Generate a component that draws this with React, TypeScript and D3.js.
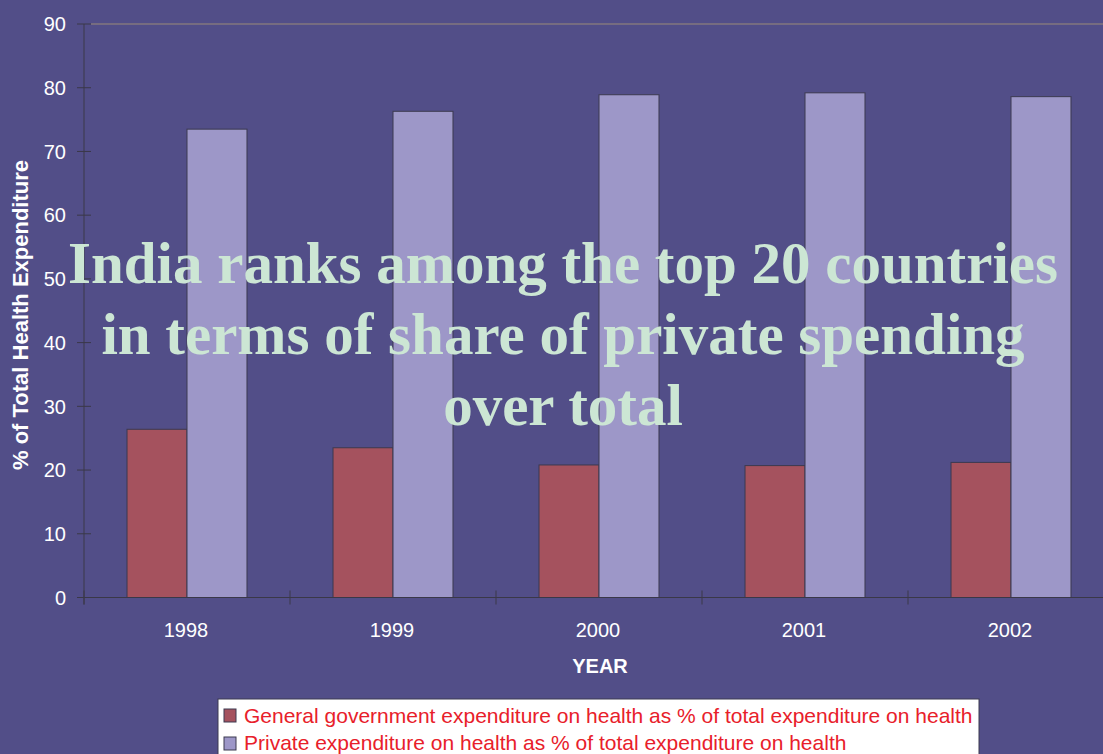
import React from "react";
import * as d3 from "d3";

const years = ["1998", "1999", "2000", "2001", "2002"];
const seriesNames = [
  "General government expenditure on health as % of total expenditure on health",
  "Private expenditure on health as % of total expenditure on health",
];
const govValues = [26.4, 23.5, 20.8, 20.7, 21.2];
const privateValues = [73.5, 76.3, 78.9, 79.2, 78.6];
const yTicks = [0, 10, 20, 30, 40, 50, 60, 70, 80, 90];
const overlayLines = [
  "India ranks among the top 20 countries",
  "in terms of share of private spending",
  "over total",
];

const W = 1103;
const H = 754;
const BG = "#524e88";
const COLORS = ["#a5525e", "#9d97c8"];

export default function App() {
  const left = 84;
  const top = 24;
  const bottom = 597.5;
  const step = 206;
  const x = d3
    .scaleBand<string>()
    .domain(years)
    .range([left, left + step * years.length])
    .padding(0);
  const inner = d3
    .scaleBand<number>()
    .domain([0, 1])
    .range([0, x.bandwidth()])
    .paddingInner(0)
    .paddingOuter(0.717);
  const y = d3.scaleLinear().domain([0, 90]).range([bottom, top]);
  const series = [govValues, privateValues];
  const axisColor = "#3a3848";
  const sans = "Liberation Sans, Arial, sans-serif";

  return (
    <div style={{ position: "fixed", left: 0, top: 0, width: W, height: H, overflow: "hidden" }}>
      <svg width={W} height={H} style={{ display: "block", background: BG }}>
        <rect x={0} y={0} width={W} height={H} fill={BG} />
        <line x1={left + 7} x2={W} y1={y(90)} y2={y(90)} stroke="#9a8a78" strokeWidth={1} />
        {years.map((yr, i) =>
          series.map((vals, s) => (
            <rect
              key={yr + s}
              x={(x(yr) as number) + (inner(s) as number)}
              y={y(vals[i])}
              width={inner.bandwidth()}
              height={bottom - y(vals[i])}
              fill={COLORS[s]}
              stroke="#3c3a50"
              strokeWidth={1}
            />
          ))
        )}
        <line x1={left} x2={left} y1={top} y2={bottom + 7} stroke={axisColor} strokeWidth={1} />
        {yTicks.map((t) => (
          <g key={t}>
            <line x1={left - 7} x2={left + 7} y1={y(t)} y2={y(t)} stroke={axisColor} />
            <text
              x={66}
              y={y(t)}
              dy="0.36em"
              textAnchor="end"
              fill="#ffffff"
              fontFamily={sans}
              fontSize={20}
            >
              {t}
            </text>
          </g>
        ))}
        <line x1={left} x2={W} y1={bottom} y2={bottom} stroke={axisColor} />
        {years.map((yr) => (
          <line
            key={"t" + yr}
            x1={x(yr) as number}
            x2={x(yr) as number}
            y1={bottom - 7}
            y2={bottom + 7}
            stroke={axisColor}
          />
        ))}
        {years.map((yr) => (
          <text
            key={"l" + yr}
            x={(x(yr) as number) + x.bandwidth() / 2 - 1}
            y={637}
            textAnchor="middle"
            fill="#ffffff"
            fontFamily={sans}
            fontSize={20}
          >
            {yr}
          </text>
        ))}
        <text
          x={600}
          y={673}
          textAnchor="middle"
          fill="#ffffff"
          fontWeight="bold"
          fontFamily={sans}
          fontSize={20}
        >
          YEAR
        </text>
        <text
          transform="translate(28,315) rotate(-90)"
          textAnchor="middle"
          fill="#ffffff"
          fontWeight="bold"
          fontFamily={sans}
          fontSize={22}
        >
          % of Total Health Expenditure
        </text>
        {overlayLines.map((ln, i) => (
          <text
            key={ln}
            x={563}
            y={283 + i * 71}
            textAnchor="middle"
            fill="#cce6d4"
            fontWeight="bold"
            fontFamily="Liberation Serif, Times New Roman, serif"
            fontSize={59}
          >
            {ln}
          </text>
        ))}
        <rect x={218} y={699} width={761} height={70} fill="#ffffff" stroke="#3c3a50" />
        {seriesNames.map((nm, i) => (
          <g key={nm}>
            <rect x={224} y={709 + i * 28} width={12} height={13} fill={COLORS[i]} stroke="#3c3a50" />
            <text
              x={244}
              y={723 + i * 27}
              fill="#e8202a"
              fontFamily={sans}
              fontSize={21}
            >
              {nm}
            </text>
          </g>
        ))}
      </svg>
    </div>
  );
}
